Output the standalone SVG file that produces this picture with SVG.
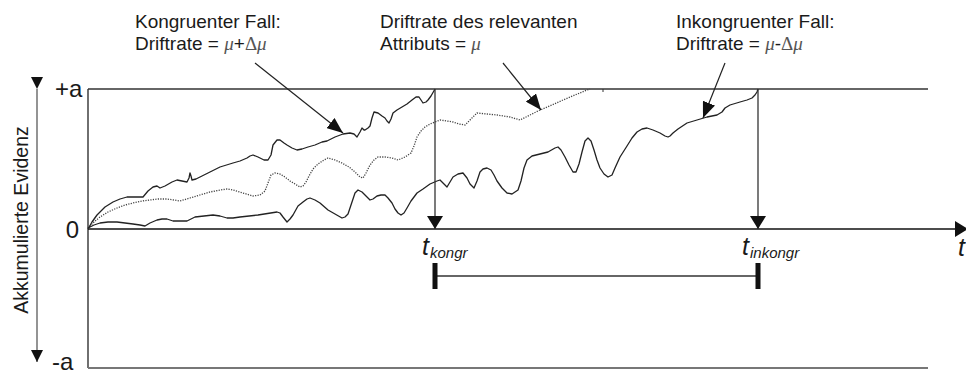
<svg xmlns="http://www.w3.org/2000/svg" width="966" height="374" viewBox="0 0 966 374">
<style>
text{font-family:"Liberation Sans",Arial,sans-serif;fill:#1a1a1a}
.ann{font-size:19px}
.mu{font-family:"Liberation Serif","DejaVu Serif",serif;font-style:italic;fill:#555}
.dl{font-family:"Liberation Serif","DejaVu Serif",serif;fill:#555}
.big{font-size:24px}
.ti{font-size:25px;font-style:italic}
.sub{font-size:15px;font-style:italic}
.curve{fill:none;stroke:#222;stroke-width:1.3;stroke-linejoin:round}
.dot{fill:none;stroke:#444;stroke-width:1.3;stroke-dasharray:1.2 1.3}
.ax{stroke:#333;stroke-width:1.4;fill:none}
.conn{stroke:#222;stroke-width:1.2;fill:none}
</style>
<defs>
<marker id="ah" markerWidth="16" markerHeight="13" refX="16" refY="6.5" orient="auto" markerUnits="userSpaceOnUse"><path d="M0,0 L16,6.5 L0,13 z" fill="#111"/></marker>
<marker id="av" markerWidth="13" markerHeight="16" refX="13" refY="8" orient="auto" markerUnits="userSpaceOnUse"><path d="M0,0 L13,8 L0,16 z" fill="#111"/></marker>
<marker id="ay" markerWidth="12" markerHeight="12" refX="12" refY="6" orient="auto" markerUnits="userSpaceOnUse"><path d="M0,0 L12,6 L0,12 z" fill="#111"/></marker>
</defs>

<g id="frame">
<line class="ax" x1="88" y1="89" x2="928" y2="89"/>
<line class="ax" x1="88" y1="89" x2="88" y2="368"/>
<line x1="88" y1="368" x2="928" y2="368" stroke="#777" stroke-width="2"/>
<line x1="603" y1="89" x2="603" y2="92" stroke="#333" stroke-width="1"/>
</g>

<g id="y-axis">
<line x1="37" y1="89" x2="37" y2="362" stroke="#666" stroke-width="1.4" marker-start="url(#ay)" marker-end="url(#ay)"/>
<text transform="translate(28,220) rotate(-90)" text-anchor="middle" font-size="19.5">Akkumulierte Evidenz</text>
<text class="big" x="55" y="97">+a</text>
<text class="big" x="79" y="238" text-anchor="end">0</text>
<text class="big" x="52" y="370">-a</text>
</g>

<g id="x-axis">
<line x1="88" y1="229" x2="968" y2="229" stroke="#111" stroke-width="1.6" marker-end="url(#av)"/>
<text class="ti" x="958" y="256">t</text>
</g>

<g id="curve-kongruent">
<polyline class="curve" points="88,229 92,222 97,215 105,207 113,202 120,199 127,197 135,197 143,197 148,191 153,187 157,186 160,188 165,186 172,182 177,180 182,181 187,182 189,178 190,173 191,176 192,180 196,179 200,177 210,172 220,167 233,163 240,161 247,158 250,156 253,155 258,157 264,160 268,160 271,155 273,145 277,140 280,140 284,143 287,145 292,148 297,150 302,149 308,147 315,145 322,142 327,141 335,137 343,134 350,133 354,134 357,137 360,132 362,128 364,130 365,130 368,128 370,126 372,118 374,112 378,113 382,116 385,118 387,121 389,123 391,119 393,113 397,110 402,107 407,104 412,100 416,97 419,97 421,100 423,103 426,102 428,100 431,96 435,89"/>
</g>

<g id="curve-relevant">
<polyline class="dot" points="88,228 94,222 100,217 108,212 117,208 125,205 133,203 142,201 150,200 158,199 167,199 174,200 180,201 190,198 200,195 210,192 220,190 227,189 233,190 243,193 253,196 260,195 265,191 268,183 271,175 275,173 280,174 285,177 290,181 295,184 300,187 303,186 306,182 309,176 313,169 318,164 324,160 328,158 335,160 342,163 349,167 355,172 360,177 363,178 366,173 370,165 374,160 378,157 385,157 392,158 398,160 405,157 411,153 414,146 417,137 421,131 425,127 430,124 435,122 440,120 447,121 453,122 459,124 465,125 471,119 477,113 487,114 497,115 510,117 520,120 530,115 540,110 552,105 563,100 575,95 587,90 590,89"/>
</g>

<g id="curve-inkongruent">
<polyline class="curve" points="88,228 94,225 100,223 108,222 117,222 125,223 133,224 140,225 145,226 150,223 157,220 162,219 167,219 170,220 173,221 180,221 187,221 191,219 195,217 204,216 213,215 220,216 227,218 233,218 240,217 258,215 277,212 280,213 283,217 287,222 290,219 293,215 298,206 303,202 307,199 310,198 315,200 320,203 328,210 335,214 342,218 345,217 348,214 351,205 355,193 358,190 362,192 366,196 370,200 373,199 377,196 381,195 385,195 388,198 392,203 395,209 398,213 401,215 404,213 407,208 411,201 417,193 423,189 430,184 437,181 440,180 443,183 447,187 450,182 453,177 458,174 463,173 467,178 470,184 474,188 477,181 480,172 483,169 487,168 491,170 494,175 497,181 502,188 507,193 512,194 518,190 521,181 524,168 527,160 532,156 540,154 548,152 555,148 558,147 561,150 565,157 569,165 573,172 576,172 579,164 582,152 585,141 588,138 591,141 594,150 597,160 600,168 604,174 608,177 612,175 615,168 620,157 627,146 632,138 637,132 642,129 647,128 653,130 660,133 665,136 668,137 670,136 673,133 678,129 687,123 697,120 707,117 717,115 722,112 725,108 730,105 740,102 747,100 752,98 755,95 757,92 758,89"/>
</g>

<g id="label-kongruent">
<text class="ann" x="135" y="28">Kongruenter Fall:</text>
<text class="ann" x="135" y="50">Driftrate = <tspan class="mu">μ</tspan>+<tspan class="dl">Δ</tspan><tspan class="mu">μ</tspan></text>
</g>
<g id="label-relevant">
<text class="ann" x="380" y="28">Driftrate des relevanten</text>
<text class="ann" x="380" y="50">Attributs = <tspan class="mu">μ</tspan></text>
</g>
<g id="label-inkongruent">
<text class="ann" x="676" y="28">Inkongruenter Fall:</text>
<text class="ann" x="676" y="50">Driftrate = <tspan class="mu">μ</tspan>-<tspan class="dl">Δ</tspan><tspan class="mu">μ</tspan></text>
</g>

<g id="t-kongr">
<text class="ti" x="422" y="255">t</text><text class="sub" x="430" y="258">kongr</text>
</g>
<g id="t-inkongr">
<text class="ti" x="742" y="255">t</text><text class="sub" x="750" y="258">inkongr</text>
</g>

<g id="connectors">
<line class="conn" x1="255" y1="63" x2="343" y2="133" marker-end="url(#ah)"/>
<line class="conn" x1="503" y1="63" x2="541" y2="110" marker-end="url(#ah)"/>
<line class="conn" x1="725" y1="63" x2="703" y2="118" marker-end="url(#ah)"/>
<line x1="435" y1="89" x2="435" y2="229" stroke="#333" stroke-width="1.3" marker-end="url(#av)"/>
<line x1="758" y1="89" x2="758" y2="229" stroke="#333" stroke-width="1.3" marker-end="url(#av)"/>
<line x1="435" y1="276" x2="758" y2="276" stroke="#333" stroke-width="1.3"/>
<rect x="432.5" y="263" width="5" height="26" fill="#111"/>
<rect x="755.5" y="263" width="5" height="26" fill="#111"/>
</g>
</svg>
